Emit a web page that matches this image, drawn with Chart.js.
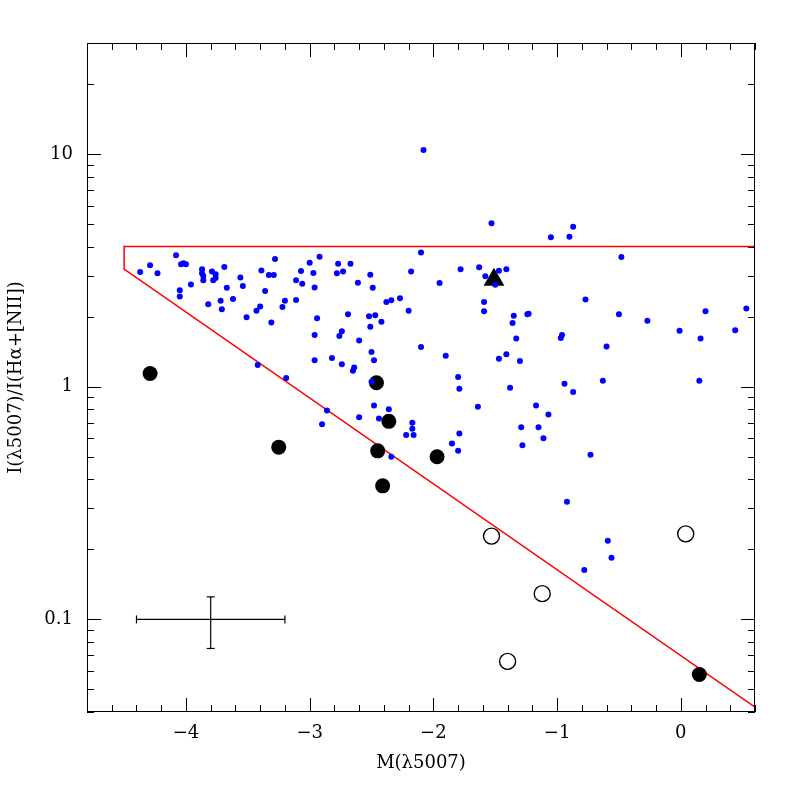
<!DOCTYPE html>
<html>
<head>
<meta charset="utf-8">
<script src="https://cdn.jsdelivr.net/npm/chart.js@4"></script>
<style>
    html, body { margin: 0; padding: 0; background: #ffffff; }
    canvas { display: block; }
</style>
</head>
<body>
<canvas id="ratioChart" width="797" height="797"></canvas>
<script>

/* =========================
   DATA
========================= */

// small blue dots
const blueX = [
    -4.37, -4.29, -4.23, -4.08, -4.04, -4.02, -4.00, -4.05, -4.05, -3.96,
    -3.87, -3.87, -3.86, -3.86, -3.79, -3.76, -3.76, -3.78, -3.82, -3.72,
    -3.71, -3.69, -3.67, -3.62, -3.56, -3.54, -3.51, -3.43, -3.40, -3.39,
    -3.36, -3.33, -3.29, -3.28, -3.31, -3.22, -3.20, -3.11, -3.11, -3.07,
    -3.06, -3.00, -2.92, -2.97, -2.96, -2.94, -2.96, -2.96, -2.77, -2.73,
    -2.78, -2.67, -2.61, -2.69, -2.74, -2.76, -2.60, -2.82, -2.74, -2.64,
    -2.65, -2.51, -2.49, -2.38, -2.34, -2.27, -2.52, -2.47, -2.51, -2.42,
    -2.20, -2.10, -2.18, -2.10, -2.50, -2.48, -3.42, -3.19, -2.50, -2.48,
    -2.36, -2.44, -2.60, -2.86, -2.90, -2.17, -2.17, -2.16, -2.22, -2.34,
    -2.08, -1.53, -1.78, -1.63, -1.58, -1.47, -1.41, -1.50, -1.95, -1.59,
    -1.59, -1.35, -1.36, -1.24, -1.33, -1.90, -1.47, -1.41, -1.30, -1.05,
    -0.90, -0.87, -0.48, -1.23, -0.77, -0.50, -0.27, -0.01, 0.16, 0.20,
    0.44, 0.53, -0.96, -0.97, -0.60, -1.80, -1.79, -1.38, -0.94, -0.87,
    -0.63, 0.15, -1.64, -1.17, -1.07, -1.29, -1.15, -1.11, -1.28, -1.79,
    -1.85, -1.80, -0.73, -0.92, -0.59, -0.56, -0.78
];

const blueY = [
    3.11, 3.33, 3.07, 3.67, 3.36, 3.39, 3.36, 2.60, 2.44, 2.75,
    3.20, 3.07, 2.99, 2.87, 3.13, 3.04, 2.93, 2.87, 2.26, 2.34,
    2.15, 3.27, 2.66, 2.38, 2.95, 2.71, 1.99, 2.12, 2.21, 3.16,
    2.58, 3.02, 3.02, 3.54, 1.89, 2.20, 2.34, 2.36, 2.87, 3.14,
    2.77, 3.41, 3.62, 3.08, 2.67, 1.97, 1.67, 1.30, 3.38, 3.13,
    3.07, 3.38, 2.80, 2.05, 1.73, 1.65, 1.58, 1.33, 1.25, 1.21,
    1.17, 3.03, 2.66, 2.31, 2.35, 2.40, 2.01, 2.03, 1.81, 1.90,
    2.12, 3.77, 3.13, 1.48, 1.41, 1.30, 1.24, 1.09, 1.05, 0.83,
    0.80, 0.73, 0.74, 0.79, 0.69, 0.70, 0.66, 0.62, 0.62, 0.50,
    10.4, 5.04, 3.20, 3.26, 2.98, 3.15, 3.20, 2.74, 2.79, 2.31,
    2.11, 2.02, 1.88, 2.05, 1.61, 1.36, 1.32, 1.38, 1.29, 4.39,
    4.41, 4.87, 3.61, 2.06, 2.37, 2.05, 1.92, 1.74, 1.61, 2.11,
    1.75, 2.17, 1.67, 1.62, 1.49, 1.10, 0.98, 0.99, 1.03, 0.95,
    1.06, 1.06, 0.82, 0.83, 0.76, 0.67, 0.67, 0.60, 0.56, 0.63,
    0.57, 0.53, 0.51, 0.32, 0.218, 0.184, 0.163
];

// big filled circles
const filledX = [-4.29, -3.25, -2.46, -2.36, -2.45, -2.41, -1.97, 0.15];
const filledY = [1.14, 0.55, 1.04, 0.71, 0.53, 0.375, 0.50, 0.058];

// open circles
const openX = [-1.53, 0.04, -1.12, -1.40];
const openY = [0.228, 0.233, 0.129, 0.066];

// triangle
const triX = [-1.51];
const triY = [2.88];

// red boundary
const boundX = [0.6, -4.5, -4.5, 0.6];
const boundY = [4.0, 4.0, 3.2, 0.042];

// typical error bar
const errCenter = [-3.8, 0.1];
const errXHalf = 0.6;
const errYRange = [0.075, 0.125];

// axes
const xRange = [-4.8, 0.6];
const yRange = [0.04, 30];
const xTickValues = [-4, -3, -2, -1, 0];
const yTickValues = [0.1, 1, 10];

const FONT = "'DejaVu Serif', 'Liberation Serif', serif";

/* =========================
   HELPERS
========================= */

function toPoints(xs, ys) {
    return xs.map((x, i) => ({ x: x, y: ys[i] }));
}

function formatX(v) {
    return v < 0 ? "\u2212" + Math.abs(v) : String(v);
}

/* =========================
   FRAME + INWARD TICKS
========================= */

const frameTicks = {

    id: "frameTicks",

    afterDatasetsDraw(chart) {

        const { ctx, chartArea: a, scales } = chart;
        const xs = scales.x;
        const ys = scales.y;

        ctx.save();
        ctx.strokeStyle = "#000000";
        ctx.lineWidth = 1;
        ctx.beginPath();

        // x ticks every 0.2, major at integers
        for (let i = -24; i <= 3; i++) {
            const v = i / 5;
            const px = Math.round(xs.getPixelForValue(v)) + 0.5;
            const len = (i % 5 === 0) ? 14 : 7;
            ctx.moveTo(px, a.bottom);
            ctx.lineTo(px, a.bottom - len);
            ctx.moveTo(px, a.top);
            ctx.lineTo(px, a.top + len);
        }

        // y ticks at 1..9 x decade
        [0.01, 0.1, 1, 10].forEach(dec => {
            for (let m = 1; m <= 9; m++) {
                const v = dec * m;
                if (v < yRange[0] || v > yRange[1]) continue;
                const py = Math.round(ys.getPixelForValue(v)) + 0.5;
                const len = (m === 1) ? 14 : 7;
                ctx.moveTo(a.left, py);
                ctx.lineTo(a.left + len, py);
                ctx.moveTo(a.right, py);
                ctx.lineTo(a.right - len, py);
            }
        });

        ctx.stroke();

        ctx.strokeRect(a.left + 0.5, a.top + 0.5, a.width - 1, a.height - 1);
        ctx.restore();

    }

};

/* =========================
   CHART
========================= */

function renderRatioChart() {

    const ctx = document.getElementById("ratioChart");

    new Chart(ctx, {

        type: "scatter",

        data: {

            datasets: [

                {
                    data: toPoints(blueX, blueY),
                    backgroundColor: "#0000ff",
                    borderWidth: 0,
                    pointRadius: 3,
                    pointHoverRadius: 3,
                    order: 0
                },

                {
                    data: toPoints(triX, triY),
                    pointStyle: "triangle",
                    backgroundColor: "#000000",
                    borderColor: "#000000",
                    borderWidth: 0,
                    pointRadius: 12,
                    order: 1
                },

                {
                    data: toPoints(filledX, filledY),
                    backgroundColor: "#000000",
                    borderWidth: 0,
                    pointRadius: 7.5,
                    order: 2
                },

                {
                    data: toPoints(openX, openY),
                    backgroundColor: "rgba(0,0,0,0)",
                    borderColor: "#000000",
                    borderWidth: 1.4,
                    pointRadius: 8,
                    order: 3
                },

                {
                    data: toPoints(boundX, boundY),
                    showLine: true,
                    borderColor: "#ff0000",
                    borderWidth: 1.5,
                    pointRadius: 0,
                    fill: false,
                    order: 4
                },

                {
                    data: toPoints(
                        [errCenter[0] - errXHalf, errCenter[0] + errXHalf],
                        [errCenter[1], errCenter[1]]
                    ),
                    showLine: true,
                    borderColor: "#000000",
                    borderWidth: 1.2,
                    pointStyle: "line",
                    rotation: 90,
                    pointRadius: 4,
                    pointBorderColor: "#000000",
                    pointBorderWidth: 1.2,
                    order: 5
                },

                {
                    data: toPoints(
                        [errCenter[0], errCenter[0]],
                        errYRange
                    ),
                    showLine: true,
                    borderColor: "#000000",
                    borderWidth: 1.2,
                    pointStyle: "line",
                    rotation: 0,
                    pointRadius: 4,
                    pointBorderColor: "#000000",
                    pointBorderWidth: 1.2,
                    order: 6
                }

            ]

        },

        options: {

            responsive: false,

            animation: false,

            layout: {
                padding: { top: 43, right: 42, left: 0, bottom: 0 }
            },

            plugins: {
                legend: { display: false },
                tooltip: { enabled: false }
            },

            scales: {

                x: {
                    type: "linear",
                    min: xRange[0],
                    max: xRange[1],
                    afterBuildTicks: s => {
                        s.ticks = xTickValues.map(v => ({ value: v }));
                    },
                    afterFit: s => { s.height = 85; },
                    grid: { display: false, drawTicks: false },
                    border: { display: false },
                    ticks: {
                        color: "#000000",
                        font: { family: FONT, size: 18 },
                        padding: 11,
                        maxRotation: 0,
                        autoSkip: false,
                        callback: v => formatX(v)
                    },
                    title: {
                        display: true,
                        text: "M(\u03bb5007)",
                        color: "#000000",
                        font: { family: FONT, size: 18 },
                        padding: { top: 0, bottom: 23 }
                    }
                },

                y: {
                    type: "logarithmic",
                    min: yRange[0],
                    max: yRange[1],
                    afterBuildTicks: s => {
                        s.ticks = yTickValues.map(v => ({ value: v }));
                    },
                    afterFit: s => { s.width = 87; },
                    grid: { display: false, drawTicks: false },
                    border: { display: false },
                    ticks: {
                        color: "#000000",
                        font: { family: FONT, size: 18 },
                        padding: 14,
                        autoSkip: false,
                        callback: v => String(v)
                    },
                    title: {
                        display: true,
                        text: "I(\u03bb5007)/I(H\u03b1+[NII])",
                        color: "#000000",
                        font: { family: FONT, size: 18 },
                        padding: { top: 6, bottom: 0 }
                    }
                }

            }

        },

        plugins: [frameTicks]

    });

}

renderRatioChart();

</script>
</body>
</html>
